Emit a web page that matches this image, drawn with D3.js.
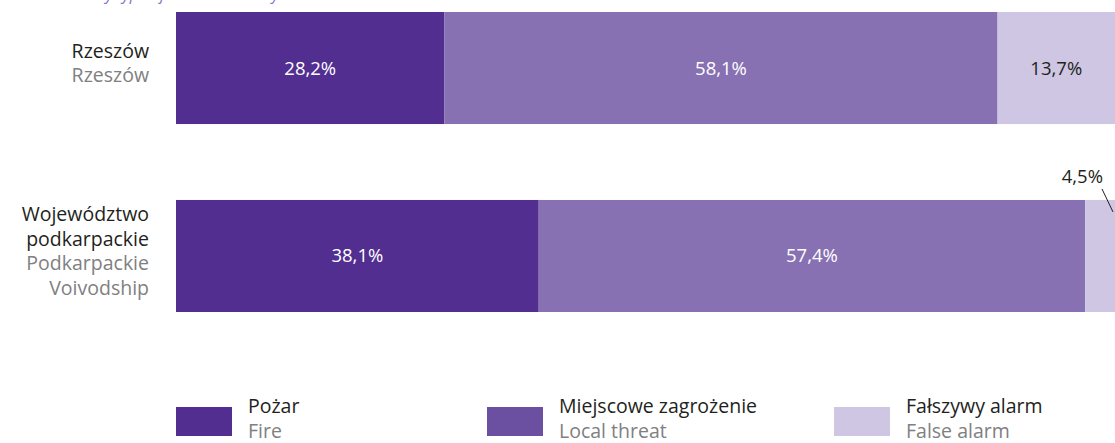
<!DOCTYPE html>
<html>
<head>
<meta charset="utf-8">
<script src="https://cdn.jsdelivr.net/npm/d3@7"></script>
<style>
  html, body { margin: 0; padding: 0; background: #fff; }
  svg { display: block; }
  text { font-family: "Open Sans", sans-serif; }
</style>
</head>
<body>
<svg id="chart" width="1115" height="443"></svg>
<script>
// Share of interventions by type (%)
const categories = ["Rzeszów", "Województwo podkarpackie"];
const labelsPl = [["Rzeszów"], ["Województwo", "podkarpackie"]];
const labelsEn = [["Rzeszów"], ["Podkarpackie", "Voivodship"]];
const seriesKeys = ["fire", "local", "false"];
const seriesPl = ["Pożar", "Miejscowe zagrożenie", "Fałszywy alarm"];
const seriesEn = ["Fire", "Local threat", "False alarm"];
const fire = [28.2, 38.1];
const localThreat = [58.1, 57.4];
const falseAlarm = [13.7, 4.5];

const W = 1115, H = 443;
const svg = d3.select("#chart");

const barColors = ["#522e91", "#8771b2", "#cec6e2"];
const legendColors = ["#522e91", "#6b4fa0", "#cec6e2"];
const dark = "#231f20", grey = "#808080";

// subtitle running off the top edge
svg.append("text")
  .attr("x", 0).attr("y", -0.5)
  .attr("font-size", 16).attr("font-style", "italic")
  .attr("fill", "#8e6fc8")
  .text("Interventions by type of event in the city");

const x = d3.scaleLinear().domain([0, 100]).range([176, 1128]);
const y = d3.scaleBand().domain(categories).range([12, 312]).paddingInner(0.404).paddingOuter(0);

const rows = categories.map((c, i) => {
  const vals = [fire[i], localThreat[i], falseAlarm[i]];
  let acc = 0;
  return {
    cat: c, i,
    segs: vals.map((v, k) => { const s = { k, v, x0: acc, x1: acc + v }; acc += v; return s; })
  };
});

const fmt = v => d3.format(".1f")(v).replace(".", ",") + "%";

const g = svg.append("g");
rows.forEach(r => {
  const yb = y(r.cat), bh = y.bandwidth(), cy = yb + bh / 2;
  g.selectAll(null).data(r.segs).enter().append("rect")
    .attr("x", d => x(d.x0))
    .attr("y", yb)
    .attr("width", d => x(d.x1) - x(d.x0))
    .attr("height", bh)
    .attr("fill", d => barColors[d.k]);

  r.segs.forEach(d => {
    const a = x(d.x0), b = Math.min(x(d.x1), W);
    const w = b - a;
    if (w > 60) {
      g.append("text")
        .attr("x", (a + b) / 2).attr("y", cy + 6.5)
        .attr("text-anchor", "middle")
        .attr("font-size", 18.5)
        .attr("fill", d.k === 2 ? dark : "#fff")
        .text(fmt(d.v));
    } else {
      // narrow segment: label above with a leader line
      g.append("line")
        .attr("x1", b - 13).attr("y1", yb - 11)
        .attr("x2", b - 2).attr("y2", yb + 12)
        .attr("stroke", dark).attr("stroke-width", 1);
      g.append("text")
        .attr("x", b - 12).attr("y", yb - 17)
        .attr("text-anchor", "end")
        .attr("font-size", 18.5)
        .attr("fill", dark)
        .text(fmt(d.v));
    }
  });

  // category labels on the left
  const lines = labelsPl[r.i].map(t => ({ t, c: dark }))
    .concat(labelsEn[r.i].map(t => ({ t, c: grey })));
  const n = lines.length;
  lines.forEach((l, j) => {
    g.append("text")
      .attr("x", 149)
      .attr("y", cy + (j - (n - 1) / 2) * 24.5 + 2)
      .attr("text-anchor", "end")
      .attr("font-size", 19.5)
      .attr("fill", l.c)
      .text(l.t);
  });
});

// legend
const legendX = [176, 487, 834];
const leg = svg.append("g");
seriesKeys.forEach((k, i) => {
  const lx = legendX[i];
  leg.append("rect")
    .attr("x", lx).attr("y", 407)
    .attr("width", 56).attr("height", 29)
    .attr("fill", legendColors[i]);
  leg.append("text")
    .attr("x", lx + 72).attr("y", 413)
    .attr("font-size", 19.5).attr("fill", dark)
    .text(seriesPl[i]);
  leg.append("text")
    .attr("x", lx + 72).attr("y", 437.5)
    .attr("font-size", 19.5).attr("fill", grey)
    .text(seriesEn[i]);
});
</script>
</body>
</html>
